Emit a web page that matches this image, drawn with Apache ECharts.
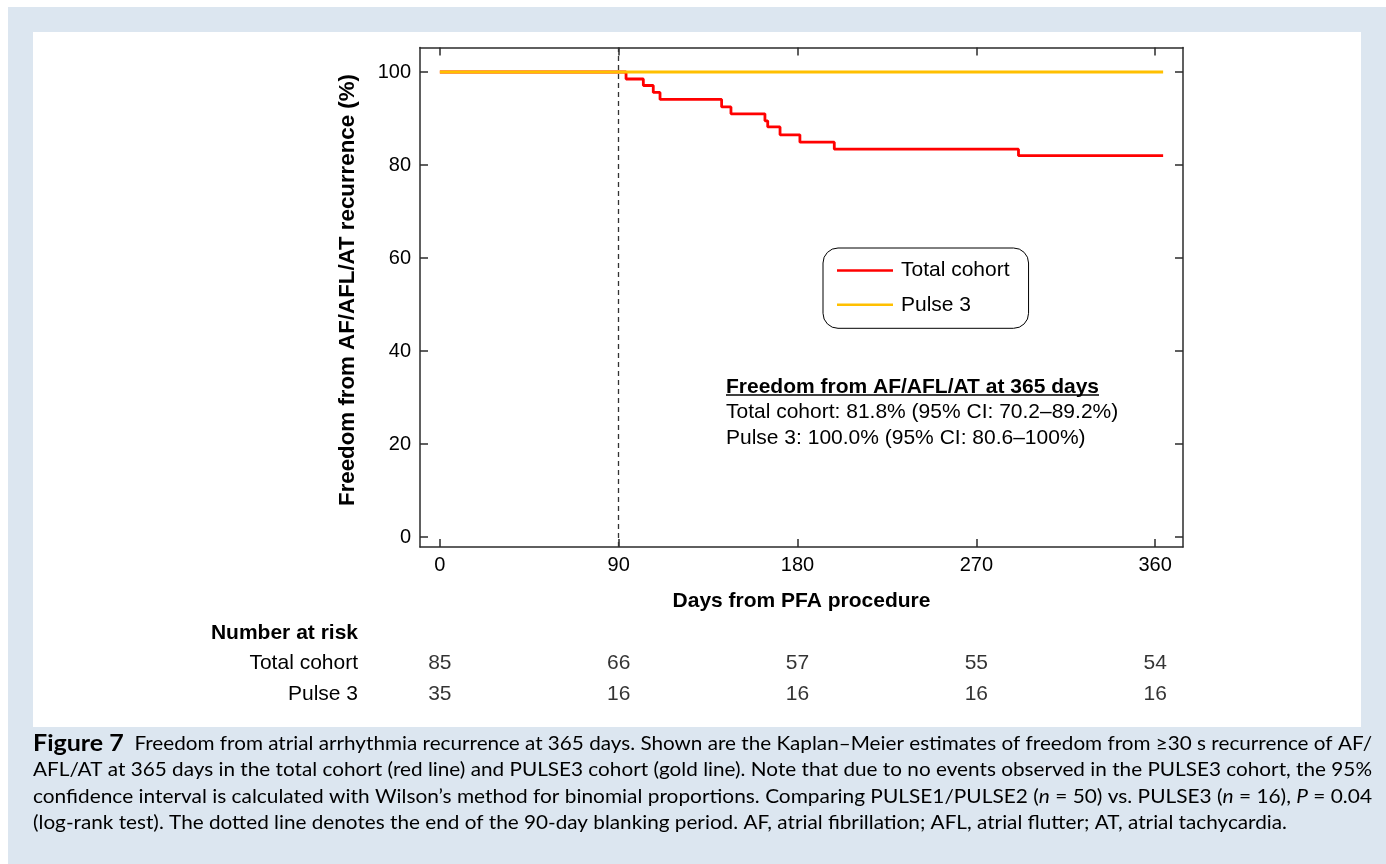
<!DOCTYPE html>
<html>
<head>
<meta charset="utf-8">
<script src="https://cdn.jsdelivr.net/npm/echarts@6/dist/echarts.min.js"></script>
<style>
html,body{margin:0;padding:0;background:#fff;}
#chart{width:1386px;height:864px;}
</style>
</head>
<body>
<div id="chart"></div>
<script>
// ---- data ----
const totalCohortDays = [0, 93.7, 102.4, 107.4, 110.8, 141.8, 146.5, 163.6, 165.0, 171.2, 181.2, 198.5, 291.2, 364];
const totalCohortSurv = [100, 98.5, 97.1, 95.6, 94.1, 92.5, 91.0, 89.5, 88.2, 86.5, 84.9, 83.4, 82.0, 82.0];
const pulse3Days = [0, 364];
const pulse3Surv = [100, 100];
const xTicks = [0, 90, 180, 270, 360];
const yTicks = [0, 20, 40, 60, 80, 100];
const riskRows = ['Total cohort', 'Pulse 3'];
const riskTotal = [85, 66, 57, 55, 54];
const riskPulse3 = [35, 16, 16, 16, 16];
const blankingDay = 90;
const annoTitle = 'Freedom from AF/AFL/AT at 365 days';
const annoLines = ['Total cohort: 81.8% (95% CI: 70.2–89.2%)', 'Pulse 3: 100.0% (95% CI: 80.6–100%)'];
const captionLines = [
  [['b', 'Figure 7'], ['r', '  Freedom from atrial arrhythmia recurrence at 365 days. Shown are the Kaplan–Meier estimates of freedom from ≥30 s recurrence of AF/']],
  [['r', 'AFL/AT at 365 days in the total cohort (red line) and PULSE3 cohort (gold line). Note that due to no events observed in the PULSE3 cohort, the 95%']],
  [['r', 'confidence interval is calculated with Wilson’s method for binomial proportions. Comparing PULSE1/PULSE2 ('], ['i', 'n'], ['r', ' = 50) vs. PULSE3 ('], ['i', 'n'], ['r', ' = 16), '], ['i', 'P'], ['r', ' = 0.04']],
  [['r', '(log-rank test). The dotted line denotes the end of the 90-day blanking period. AF, atrial fibrillation; AFL, atrial flutter; AT, atrial tachycardia.']]
];

// ---- layout helpers ----
const AX = '#2b2b2b';
const FONT = '"Liberation Sans", Arial, sans-serif';
const CAPFONT = 'Lato, "Open Sans", sans-serif';
const capStyles = {
  r: {fontSize: 19, fontWeight: 'normal', fontStyle: 'normal', color: '#231f20'},
  i: {fontSize: 19, fontWeight: 'normal', fontStyle: 'italic', color: '#231f20'},
  b: {fontSize: 23, fontWeight: 'bold', fontStyle: 'normal', color: '#17708f'}
};
const mctx = document.createElement('canvas').getContext('2d');
function segWidth(seg) {
  const s = capStyles[seg[0]];
  mctx.font = s.fontStyle + ' ' + s.fontWeight + ' ' + s.fontSize + 'px ' + CAPFONT;
  return mctx.measureText(seg[1]).width;
}
function textWidth(t, font) { mctx.font = font; return mctx.measureText(t).width; }
const capTargets = [1339, 1339, 1339, 1254];
const capY = [744, 770, 796.5, 823];
const captionGraphics = captionLines.map((segs, i) => {
  const w = segs.reduce((a, s) => a + segWidth(s), 0);
  const rich = {};
  Object.keys(capStyles).forEach(k => {
    rich[k] = Object.assign({fontFamily: CAPFONT}, capStyles[k]);
  });
  return {
    type: 'text', x: 33, y: capY[i], scaleX: capTargets[i] / w, originX: 0, originY: 0, z: 10,
    style: {
      text: segs.map(s => '{' + s[0] + '|' + s[1] + '}').join(''),
      rich: rich, align: 'left', verticalAlign: 'middle'
    }
  };
});
const titleFont = 'bold 21px ' + FONT;
const titleW = textWidth(annoTitle, titleFont);

const chart = echarts.init(document.getElementById('chart'), null, {renderer: 'canvas'});
const zip = (a, b) => a.map((v, i) => [v, b[i]]);
const riskData = [];
riskTotal.forEach((v, i) => riskData.push([xTicks[i], 0, v]));
riskPulse3.forEach((v, i) => riskData.push([xTicks[i], 1, v]));
const lineIcon = 'path://M0 0H56V2.6H0Z';

const option = {
  animation: false,
  backgroundColor: '#ffffff',
  textStyle: {fontFamily: FONT},
  graphic: [
    {type: 'rect', shape: {x: 8, y: 7, width: 1378, height: 857}, style: {fill: '#dce6f0'}, z: -10},
    {type: 'rect', shape: {x: 33, y: 32, width: 1328, height: 695}, style: {fill: '#ffffff'}, z: -9},
    {type: 'text', x: 348, y: 290, rotation: Math.PI / 2, style: {text: 'Freedom from AF/AFL/AT recurrence (%)', font: 'bold 22.3px ' + FONT, fill: '#000', align: 'center', verticalAlign: 'middle'}},
    {type: 'text', x: 726, y: 387, style: {text: annoTitle, font: titleFont, fill: '#000', align: 'left', verticalAlign: 'middle'}},
    {type: 'line', shape: {x1: 726, y1: 395, x2: 726 + titleW, y2: 395}, style: {stroke: '#000', lineWidth: 1.4}},
    {type: 'text', x: 726, y: 412, style: {text: annoLines[0], font: '21px ' + FONT, fill: '#000', align: 'left', verticalAlign: 'middle'}},
    {type: 'text', x: 726, y: 438, style: {text: annoLines[1], font: '21px ' + FONT, fill: '#000', align: 'left', verticalAlign: 'middle'}},
    {type: 'text', x: 358, y: 633, style: {text: 'Number at risk', font: 'bold 21px ' + FONT, fill: '#000', align: 'right', verticalAlign: 'middle'}}
  ].concat(captionGraphics),
  legend: {
    left: 823, top: 248, orient: 'vertical',
    data: [{name: 'Total cohort', icon: lineIcon}, {name: 'Pulse 3', icon: lineIcon}],
    itemWidth: 56, itemHeight: 21, itemGap: 13.3,
    padding: [12, 19, 13, 14],
    borderColor: '#000', borderWidth: 1, borderRadius: 15,
    textStyle: {fontSize: 21, color: '#000', fontFamily: FONT, lineHeight: 21, padding: [0, 0, 0, 3]}
  },
  grid: [
    {left: 420, top: 47.5, width: 763, height: 499.5, containLabel: false},
    {left: 420, top: 647.5, width: 763, height: 62, containLabel: false}
  ],
  xAxis: [
    {
      type: 'value', gridIndex: 0, min: -10, max: 374, position: 'bottom',
      name: 'Days from PFA procedure', nameLocation: 'middle', nameGap: 44,
      nameTextStyle: {fontSize: 21, fontWeight: 'bold', color: '#000', fontFamily: FONT},
      axisLine: {show: true, onZero: false, lineStyle: {color: AX, width: 1.5}},
      axisTick: {show: true, inside: true, length: 8, customValues: xTicks, lineStyle: {color: AX, width: 1.5}},
      axisLabel: {show: true, customValues: xTicks, fontSize: 20, color: '#000', margin: 8, fontFamily: FONT},
      splitLine: {show: false}
    },
    {
      type: 'value', gridIndex: 0, min: -10, max: 374, position: 'top',
      axisLine: {show: true, onZero: false, lineStyle: {color: AX, width: 1.5}},
      axisTick: {show: true, inside: true, length: 8, customValues: xTicks, lineStyle: {color: AX, width: 1.5}},
      axisLabel: {show: false}, splitLine: {show: false}
    },
    {
      type: 'value', gridIndex: 1, min: -10, max: 374, show: false
    }
  ],
  yAxis: [
    {
      type: 'value', gridIndex: 0, min: -2.15, max: 105.27, position: 'left',
      axisLine: {show: true, onZero: false, lineStyle: {color: AX, width: 1.5}},
      axisTick: {show: true, inside: true, length: 8, customValues: yTicks, lineStyle: {color: AX, width: 1.5}},
      axisLabel: {show: true, customValues: yTicks, fontSize: 20, color: '#000', margin: 9, fontFamily: FONT},
      splitLine: {show: false}
    },
    {
      type: 'value', gridIndex: 0, min: -2.15, max: 105.27, position: 'right',
      axisLine: {show: true, onZero: false, lineStyle: {color: AX, width: 1.5}},
      axisTick: {show: true, inside: true, length: 8, customValues: yTicks, lineStyle: {color: AX, width: 1.5}},
      axisLabel: {show: false}, splitLine: {show: false}
    },
    {
      type: 'category', gridIndex: 1, data: riskRows, inverse: true,
      axisLine: {show: false}, axisTick: {show: false}, splitLine: {show: false},
      axisLabel: {fontSize: 21, color: '#000', margin: 62, fontFamily: FONT}
    }
  ],
  series: [
    {
      name: 'Total cohort', type: 'line', step: 'end', xAxisIndex: 0, yAxisIndex: 0,
      data: zip(totalCohortDays, totalCohortSurv), symbol: 'none', z: 3,
      lineStyle: {color: '#ff0000', width: 2.8}, itemStyle: {color: '#ff0000'},
      markLine: {
        silent: true, symbol: 'none', label: {show: false},
        lineStyle: {color: '#333', width: 1.3, type: [5, 4]},
        data: [{xAxis: blankingDay}]
      }
    },
    {
      name: 'Pulse 3', type: 'line', xAxisIndex: 0, yAxisIndex: 0,
      data: zip(pulse3Days, pulse3Surv), symbol: 'none', z: 4,
      lineStyle: {color: '#ffc000', width: 2.8}, itemStyle: {color: '#ffc000'}
    },
    {
      name: 'risk', type: 'scatter', xAxisIndex: 2, yAxisIndex: 2,
      data: riskData, symbolSize: 0, silent: true,
      label: {show: true, position: 'inside', formatter: p => String(p.value[2]), fontSize: 21, color: '#000', fontFamily: FONT}
    }
  ]
};
chart.setOption(option);
</script>
</body>
</html>
